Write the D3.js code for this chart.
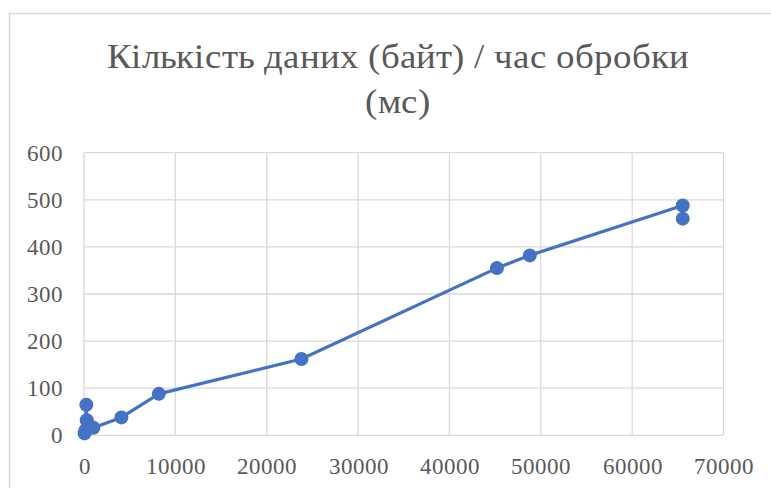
<!DOCTYPE html>
<html>
<head>
<meta charset="utf-8">
<script src="https://cdn.jsdelivr.net/npm/d3@7"></script>
<style>
  @font-face {
    font-family: "ChartSerif";
    src: local("Liberation Serif"), local("LiberationSerif"), local("LiberationSerif-Regular"), local("Times New Roman"), local("DejaVu Serif");
  }
  html, body { margin: 0; padding: 0; background: #ffffff; }
  svg { display: block; }
  svg text, .serif { font-family: "ChartSerif", "Liberation Serif", Tinos, "DejaVu Serif", "Noto Serif", serif; }
</style>
</head>
<body>
<svg id="chart" width="771" height="488"></svg>
<script>
// Data size in bytes vs processing time in ms, in drawing order
const bytes = [64, 128, 256, 300, 512, 1024, 4096, 8192, 23800, 45200, 48800, 65536, 65536];
const timeMs = [4, 10, 65, 32, 22, 16, 38, 88, 162, 355, 382, 488, 460];
const xTicks = [0, 10000, 20000, 30000, 40000, 50000, 60000, 70000];
const yTicks = [0, 100, 200, 300, 400, 500, 600];
const titleLines = ["Кількість даних (байт) / час обробки", "(мс)"];

const TEXT_COLOR = "#595959";
const svg = d3.select("#chart");
const plot = { left: 84, right: 723.5, top: 152.7, bottom: 435.3 };

// chart frame
svg.append("rect")
  .attr("x", 9.5).attr("y", 13.5)
  .attr("width", 800).attr("height", 600)
  .attr("fill", "#fff").attr("stroke", "#d9d9d9").attr("stroke-width", 1.5);

const x = d3.scaleLinear().domain([0, 70000]).range([plot.left, plot.right]);
const y = d3.scaleLinear().domain([0, 600]).range([plot.bottom, plot.top]);

// gridlines
const g = svg.append("g");
g.selectAll("line.h").data(yTicks).join("line")
  .attr("x1", plot.left).attr("x2", plot.right)
  .attr("y1", d => y(d)).attr("y2", d => y(d))
  .attr("stroke", "#d9d9d9").attr("stroke-width", 1.3);
g.selectAll("line.v").data(xTicks).join("line")
  .attr("y1", plot.top).attr("y2", plot.bottom)
  .attr("x1", d => x(d)).attr("x2", d => x(d))
  .attr("stroke", "#d9d9d9").attr("stroke-width", 1.3);

// tick labels
const yAxis = d3.axisLeft(y).tickValues(yTicks).tickSize(0).tickPadding(21).tickFormat(d3.format("d"));
const ya = svg.append("g").attr("transform", `translate(${plot.left},0)`).call(yAxis)
  .attr("font-family", null).attr("font-size", 23);
ya.select(".domain").remove();
ya.selectAll("text").attr("class", "serif").attr("fill", TEXT_COLOR);

const xAxis = d3.axisBottom(x).tickValues(xTicks).tickSize(0).tickPadding(22).tickFormat(d3.format("d"));
const xa = svg.append("g").attr("transform", `translate(0,${plot.bottom})`).call(xAxis)
  .attr("font-family", null).attr("font-size", 23);
xa.select(".domain").remove();
xa.selectAll("text").attr("class", "serif").attr("fill", TEXT_COLOR);

// title, two centred lines, narrowed to the set width of the first line
const title = svg.append("text").attr("class", "serif").attr("text-anchor", "middle")
  .attr("font-size", 35).attr("fill", TEXT_COLOR);
const tspans = title.selectAll("tspan").data(titleLines).join("tspan")
  .attr("x", 398).attr("y", (d, i) => 67.5 + i * 45)
  .text(d => d);
const firstWidth = tspans.nodes()[0].getComputedTextLength();
const squeeze = 582 / firstWidth;
tspans.each(function () {
  const w = this.getComputedTextLength();
  d3.select(this).attr("textLength", w * squeeze).attr("lengthAdjust", "spacingAndGlyphs");
});

// series line and markers
const pts = bytes.map((b, i) => [b, timeMs[i]]);
svg.append("path")
  .attr("d", d3.line().x(d => x(d[0])).y(d => y(d[1]))(pts))
  .attr("fill", "none").attr("stroke", "#4472C4").attr("stroke-width", 3.2)
  .attr("stroke-linejoin", "round");
svg.selectAll("circle.pt").data(pts).join("circle")
  .attr("cx", d => x(d[0])).attr("cy", d => y(d[1])).attr("r", 7)
  .attr("fill", "#4472C4");
</script>
</body>
</html>
